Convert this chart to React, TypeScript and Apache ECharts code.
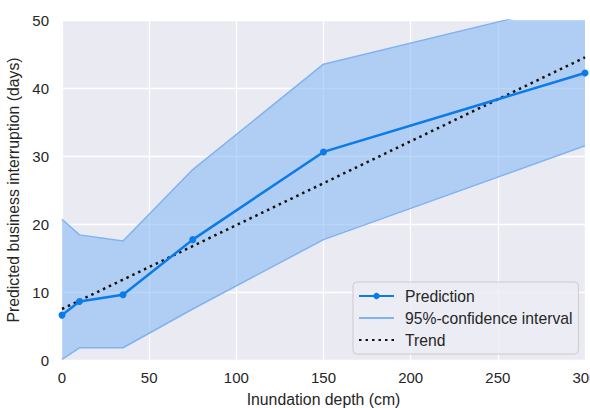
import React, { useEffect, useRef } from 'react';
import * as echarts from 'echarts';

const depth = [0, 10, 35, 75, 150, 300];
const prediction = [6.6, 8.6, 9.6, 17.7, 30.6, 42.2];
const ciLower = [0.1, 1.8, 1.8, 7.5, 17.7, 31.5];
const ciUpper = [20.7, 18.4, 17.5, 28.0, 43.5, 52.8];
const trendX = [0, 300];
const trendY = [7.5, 44.5];
const xTicks = { min: 0, max: 300, interval: 50 };
const yTicks = { min: 0, max: 50, interval: 10 };

const FONT = 'Liberation Sans, Arial, sans-serif';
const TEXT = '#262626';
const PRED = '#0A7BE8';
const CI_LINE = '#80B3F0';
const CI_FILL = 'rgba(118,176,244,0.5)';

export default function App() {
  const ref = useRef<HTMLDivElement>(null);
  useEffect(() => {
    const chart = echarts.init(ref.current!, null, { renderer: 'svg' });
    chart.setOption({
      animation: false,
      textStyle: { fontFamily: FONT },
      grid: {
        left: 62, right: 5, top: 20, bottom: 48, show: true, backgroundColor: '#EAEAF2', borderWidth: 0,
        outerBoundsMode: 'none', containLabel: false,
      },
      xAxis: {
        type: 'value', ...xTicks,
        axisLine: { show: false }, axisTick: { show: false },
        splitLine: { lineStyle: { color: '#FFFFFF', width: 1.3 } },
        axisLabel: { fontSize: 15, color: TEXT, margin: 10 },
        name: 'Inundation depth (cm)', nameLocation: 'middle', nameGap: 31,
        nameTextStyle: { fontSize: 15.8, color: TEXT },
      },
      yAxis: {
        type: 'value', ...yTicks,
        axisLine: { show: false }, axisTick: { show: false },
        splitLine: { lineStyle: { color: '#FFFFFF', width: 1.3 } },
        axisLabel: { fontSize: 15, color: TEXT, margin: 13 },
        name: 'Predicted business interruption (days)', nameLocation: 'middle', nameGap: 35,
        nameTextStyle: { fontSize: 15.8, color: TEXT },
      },
      legend: {
        orient: 'vertical', left: 353, top: 282,
        backgroundColor: 'rgba(236,236,244,0.85)', borderColor: '#CCCCCC', borderWidth: 1, borderRadius: 4,
        padding: [6, 6, 6, 5], itemWidth: 35, itemHeight: 8, itemGap: 6,
        textStyle: { fontSize: 15.7, color: TEXT, fontFamily: FONT, padding: [0, 0, 0, 6] },
        data: [
          { name: 'Prediction' },
          { name: '95%-confidence interval', itemStyle: { opacity: 0 } },
          { name: 'Trend', itemStyle: { opacity: 0 } },
        ],
      },
      series: [
        {
          type: 'custom', name: 'band', silent: true, clip: true, z: 1,
          data: [[0, 0]],
          renderItem: (params: any, api: any) => {
            const upperPts = depth.map((d, i) => api.coord([d, ciUpper[i]]));
            const lowerPts = depth.map((d, i) => api.coord([d, ciLower[i]])).reverse();
            const cs = params.coordSys;
            return {
              type: 'group',
              clipPath: { type: 'rect', shape: { x: cs.x, y: cs.y, width: cs.width, height: cs.height } },
              children: [
                { type: 'polygon', shape: { points: [...upperPts, ...lowerPts] }, style: { fill: CI_FILL } },
              ],
            };
          },
        },
        {
          name: '95%-confidence interval', type: 'line', data: depth.map((d, i) => [d, ciLower[i]]),
          symbol: 'none', lineStyle: { color: CI_LINE, width: 1.5 }, itemStyle: { color: CI_LINE }, z: 2,
        },
        {
          name: '95%-confidence interval', type: 'line', data: depth.map((d, i) => [d, ciUpper[i]]),
          symbol: 'none', lineStyle: { color: CI_LINE, width: 1.5 }, itemStyle: { color: CI_LINE }, z: 2,
        },
        {
          name: 'Trend', type: 'line', data: trendX.map((x, i) => [x, trendY[i]]),
          symbol: 'none', lineStyle: { color: '#111111', width: 2.5, type: [2.5, 4] }, itemStyle: { color: '#111111' }, z: 3,
        },
        {
          name: 'Prediction', type: 'line', data: depth.map((d, i) => [d, prediction[i]]),
          symbol: 'circle', symbolSize: 7, lineStyle: { color: PRED, width: 2.5 }, itemStyle: { color: PRED }, z: 4,
        },
      ],
    });
    return () => chart.dispose();
  }, []);
  return <div ref={ref} style={{ position: 'absolute', left: 0, top: 0, width: 590, height: 408, background: '#FFFFFF' }} />;
}
